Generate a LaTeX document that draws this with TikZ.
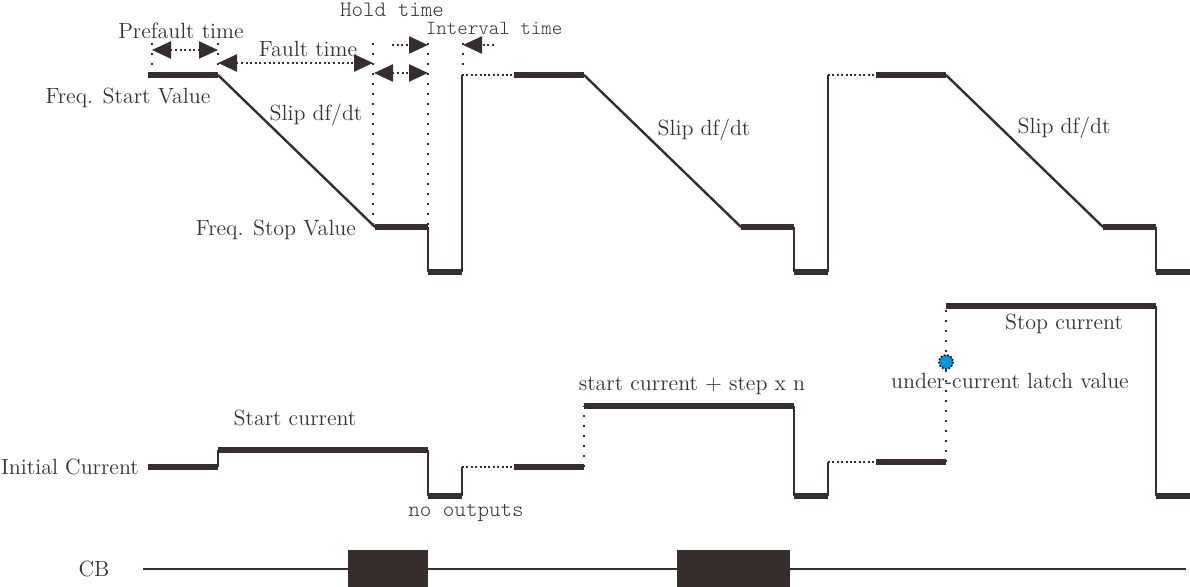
\documentclass[tikz,border=0pt]{standalone}
\usepackage{tikz}
\usetikzlibrary{arrows.meta}
\definecolor{ink}{RGB}{53,46,44}
\definecolor{latch}{RGB}{0,150,220}

\begin{document}
\begin{tikzpicture}[x=0.5pt,y=-0.5pt,
    lvl/.style={ink,line width=3pt},
    edge/.style={ink,line width=1.2pt},
    gap/.style={ink,line width=1pt,dash pattern=on 1pt off 1.2pt},
    guide/.style={ink,line width=1.2pt,dash pattern=on 1.2pt off 3.8pt},
    span/.style={ink,line width=1.2pt,dash pattern=on 1pt off 1.3pt,>={Triangle[length=9.5pt,width=8.5pt]}},
    lbl/.style={text=black!80,font=\fontsize{11}{13}\selectfont,inner sep=0pt},
    mono/.style={text=black!80,font=\fontsize{11}{13}\ttfamily\fontseries{l}\selectfont,inner sep=0pt}]
  \useasboundingbox (0,0) rectangle (1190,587);

  % frequency
  \foreach \o in {0,366,728} {
    \draw[lvl] (148+\o,75) -- (218+\o,75);
    \draw[edge] (218+\o,75) -- (375+\o,227);
    \draw[lvl] (375+\o,227) -- (428+\o,227);
    \draw[edge] (428+\o,227) -- (428+\o,272);
    \draw[lvl] (428+\o,272) -- (462+\o,272);
  }
  \foreach \o in {0,366} {
    \draw[edge] (462+\o,272) -- (462+\o,75);
    \draw[gap] (462+\o,75) -- (514+\o,75);
  }

  % time marks
  \draw[guide] (152,43) -- (152,66);
  \draw[guide] (218,43) -- (218,66);
  \draw[guide] (373,43) -- (373,225);
  \draw[guide] (428,43) -- (428,225);
  \draw[guide] (463,43) -- (463,66);

  \coordinate (pf-l) at (152,50);
  \coordinate (pf-r) at (218,50);
  \coordinate (f-l) at (218,63);
  \coordinate (f-r) at (373,63);
  \coordinate (h-l) at (374,73);
  \coordinate (h-r) at (428,73);
  \coordinate (h-t) at (392,45);
  \coordinate (h-e) at (428,45);
  \coordinate (i-t) at (494,45);
  \coordinate (i-e) at (463,45);
  \draw[span,<->] (pf-l) -- (pf-r);
  \draw[span,<->] (f-l) -- (f-r);
  \draw[span,<->] (h-l) -- (h-r);
  \draw[span,->] (h-t) -- (h-e);
  \draw[span,->] (i-t) -- (i-e);

  \node[lbl] (prefault) at (181,31) {Prefault time};
  \node[lbl] (fault) at (308,49) {Fault time};
  \node[mono] (hold) at (392,10) {Hold time};
  \node[mono,font=\fontsize{10}{12}\ttfamily\fontseries{l}\selectfont] (interval) at (494,28) {Interval time};
  \node[lbl] (fstart) at (128,98) {Freq. Start Value};
  \node[lbl] (fstop) at (276,230) {Freq. Stop Value};
  \node[lbl] (slip1) at (316,115) {Slip df/dt};
  \node[lbl] (slip2) at (704,130) {Slip df/dt};
  \node[lbl] (slip3) at (1064,128) {Slip df/dt};

  % current
  \draw[lvl] (148,467) -- (218,467);
  \draw[edge] (218,467) -- (218,450);
  \draw[lvl] (218,450) -- (428,450);
  \draw[edge] (428,450) -- (428,496);
  \draw[lvl] (428,496) -- (462,496);
  \draw[edge] (462,496) -- (462,467);
  \draw[gap] (462,467) -- (514,467);
  \draw[lvl] (514,467) -- (584,467);
  \draw[guide] (584,467) -- (584,406);
  \draw[lvl] (584,406) -- (794,406);
  \draw[edge] (794,406) -- (794,496);
  \draw[lvl] (794,496) -- (828,496);
  \draw[edge] (828,496) -- (828,462);
  \draw[gap] (828,462) -- (876,462);
  \draw[lvl] (876,462) -- (946,462);
  \draw[guide] (946,462) -- (946,310);
  \draw[lvl] (946,306) -- (1156,306);
  \draw[edge] (1156,306) -- (1156,496);
  \draw[lvl] (1156,496) -- (1190,496);

  \fill[latch] (946,362) circle (7);
  \draw[black,line width=0.8pt,dash pattern=on 0.8pt off 0.9pt] (946,362) circle (7);

  \node[lbl] (init) at (70,467) {Initial Current};
  \node[lbl] (startc) at (295,418) {Start current};
  \node[mono] (noout) at (466,513) {no outputs};
  \node[lbl] (stepc) at (692,386) {start current + step x n};
  \node[lbl] (stopc) at (1064,324) {Stop current};
  \node[lbl] (latchv) at (1010,381) {under-current latch value};

  % breaker
  \node[lbl] (cb) at (94,569) {CB};
  \draw[ink,line width=1pt] (143,569) -- (1186,569);
  \fill[ink] (348,550) rectangle (428,587);
  \fill[ink] (677,550) rectangle (790,587);
\end{tikzpicture}
\end{document}
